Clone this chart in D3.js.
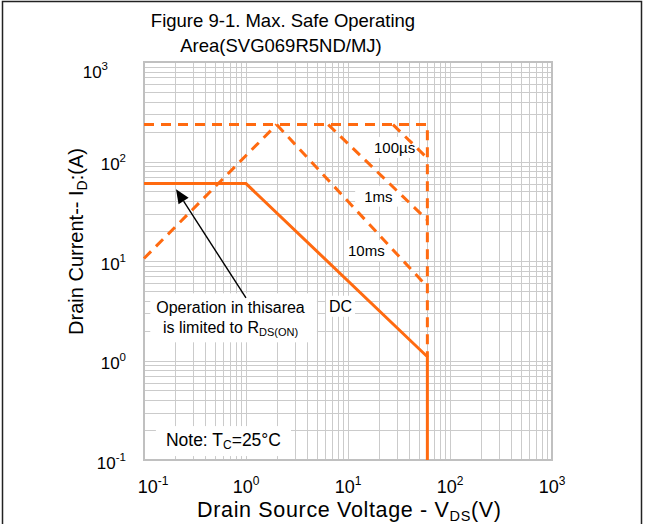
<!DOCTYPE html>
<html>
<head>
<meta charset="utf-8">
<script src="https://cdn.jsdelivr.net/npm/d3@7"></script>
<style>
body { margin: 0; background: #fff; }
text { font-family: "Liberation Sans", Arial, sans-serif; fill: #000; }
</style>
</head>
<body>
<svg id="chart" width="653" height="524"></svg>
<script>
// decades on both axes
var decades = [0.1, 1, 10, 100, 1000];
var decadeExp = ["-1", "0", "1", "2", "3"];

// DC limit (solid)
var dcV = [0.1, 1, 60, 60];
var dcI = [60, 60, 1.09, 0.1];
// max current / max voltage limit (dashed)
var limV = [0.1, 60, 60];
var limI = [235, 235, 1.09];
// RDS(on) limit (dashed)
var rdsV = [0.1, 2];
var rdsI = [10.6, 235];
// pulse lines (dashed)
var ms10V = [2, 60],     ms10I = [235, 5.5];
var ms1V = [6.4, 60],    ms1I = [235, 25.8];
var us100V = [27.6, 60], us100I = [235, 108];

// curve labels
var curveNames = ["100µs", "1ms", "10ms", "DC"];
var curveLabelV = [18, 14.4, 10, 6.5];
var curveLabelI = [122, 39.5, 11.2, 3.09];

// arrow (head, tail)
var arrowV = [0.206, 1.0];
var arrowI = [52.5, 4.25];

var orange = "#ff6a10";

var svg = d3.select("#chart");

var x = d3.scaleLog().domain([0.1, 1000]).range([144, 552]);
var y = d3.scaleLog().domain([0.1, 1000]).range([460, 62]);

// outer frame of the figure
svg.append("path")
    .attr("d", "M2.5,524V1.5H641.5V524")
    .attr("fill", "none")
    .attr("stroke", "#222")
    .attr("stroke-width", 1.5);

// grid
var grid = svg.append("g").attr("stroke", "#cbcbcb").attr("stroke-width", 1);
grid.selectAll(".vx")
    .data(x.ticks())
    .enter().append("line")
    .attr("x1", function (d) { return Math.round(x(d)) + 0.5; })
    .attr("x2", function (d) { return Math.round(x(d)) + 0.5; })
    .attr("y1", 62).attr("y2", 460);
grid.selectAll(".hy")
    .data(y.ticks())
    .enter().append("line")
    .attr("y1", function (d) { return Math.round(y(d)) + 0.5; })
    .attr("y2", function (d) { return Math.round(y(d)) + 0.5; })
    .attr("x1", 144).attr("x2", 552);

svg.append("rect")
    .attr("x", 144).attr("y", 62)
    .attr("width", 408).attr("height", 398)
    .attr("fill", "none")
    .attr("stroke", "#c0c0c0")
    .attr("stroke-width", 2);

// white boxes behind text
function boxed(sel, padX, padY) {
    var b = sel.node().getBBox();
    sel.node().parentNode.insertBefore(
        d3.create("svg:rect")
            .attr("x", b.x - padX).attr("y", b.y - padY)
            .attr("width", b.width + 2 * padX).attr("height", b.height + 2 * padY)
            .attr("fill", "#fff").node(),
        sel.node());
}

var notes = svg.append("g");

// Operation area note
var op = notes.append("g");
op.append("text")
    .attr("x", x(0.705)).attr("y", y(2.98))
    .attr("text-anchor", "middle")
    .style("font-size", "16px")
    .text("Operation in thisarea");
var op2 = op.append("text")
    .attr("x", x(0.705)).attr("y", y(2.98) + 20)
    .attr("text-anchor", "middle")
    .style("font-size", "16px");
op2.append("tspan").text("is limited to R");
op2.append("tspan").attr("dy", 3).style("font-size", "11px").text("DS(ON)");
var ob = op.node().getBBox();
op.insert("rect", "text")
    .attr("x", ob.x - 6).attr("y", ob.y - 6)
    .attr("width", ob.width + 18).attr("height", ob.height + 10)
    .attr("fill", "#fff");

// Tc note
var note = notes.append("text")
    .attr("x", x(0.164)).attr("y", y(0.138))
    .style("font-size", "17.5px");
note.append("tspan").text("Note: T");
note.append("tspan").attr("dy", 3).style("font-size", "12px").text("C");
note.append("tspan").attr("dy", -3).text("=25°C");
boxed(note, 10, 4);

// curve labels
curveNames.forEach(function (name, i) {
    var t = notes.append("text")
        .attr("x", x(curveLabelV[i])).attr("y", y(curveLabelI[i]))
        .style("font-size", name === "DC" ? "16px" : "15px")
        .text(name);
    boxed(t, name === "1ms" ? 9 : 3, 2);
});

// SOA lines
var line = d3.line()
    .x(function (d) { return x(d[0]); })
    .y(function (d) { return y(d[1]); });

function pairs(v, c) { return v.map(function (d, i) { return [d, c[i]]; }); }

var dashed = [pairs(limV, limI), pairs(rdsV, rdsI), pairs(ms10V, ms10I),
              pairs(ms1V, ms1I), pairs(us100V, us100I)];

svg.append("g").selectAll("path")
    .data(dashed)
    .enter().append("path")
    .attr("d", line)
    .attr("fill", "none")
    .attr("stroke", orange)
    .attr("stroke-width", 3)
    .attr("stroke-dasharray", "10,7");

svg.append("path")
    .attr("d", line(pairs(dcV, dcI)))
    .attr("fill", "none")
    .attr("stroke", orange)
    .attr("stroke-width", 3);

// arrow
var hx = x(arrowV[0]), hy = y(arrowI[0]), tx = x(arrowV[1]), ty = y(arrowI[1]);
var ang = Math.atan2(hy - ty, hx - tx);
var hl = 14, hw = 6;
var bx = hx - hl * Math.cos(ang), by = hy - hl * Math.sin(ang);
svg.append("line")
    .attr("x1", tx).attr("y1", ty).attr("x2", bx).attr("y2", by)
    .attr("stroke", "#000").attr("stroke-width", 1.4);
svg.append("path")
    .attr("d", "M" + hx + "," + hy +
        "L" + (bx + hw * Math.sin(ang)) + "," + (by - hw * Math.cos(ang)) +
        "L" + (bx - hw * Math.sin(ang)) + "," + (by + hw * Math.cos(ang)) + "Z")
    .attr("fill", "#000");

// tick labels
var xl = svg.append("g").selectAll("text")
    .data(decades)
    .enter().append("text")
    .attr("x", function (d, i) { return x(d) + (i === 0 ? 9 : 0); })
    .attr("y", 493)
    .attr("text-anchor", "middle")
    .style("font-size", "18px");
xl.append("tspan").text("10");
xl.append("tspan").attr("dy", -8).style("font-size", "12px")
    .text(function (d, i) { return decadeExp[i]; });

var yl = svg.append("g").selectAll("text")
    .data(decades)
    .enter().append("text")
    .attr("x", function (d, i) { return i === 4 ? 108 : 126; })
    .attr("y", function (d, i) { return y(d) + (i === 4 ? 16 : 8.5); })
    .attr("text-anchor", "end")
    .style("font-size", "17px");
yl.append("tspan").text("10");
yl.append("tspan").attr("dy", -8).style("font-size", "11.5px")
    .text(function (d, i) { return decadeExp[i]; });

// titles
var title = svg.append("text")
    .attr("text-anchor", "middle")
    .style("font-size", "18.5px");
title.append("tspan").attr("x", 283).attr("y", 27).text("Figure 9-1. Max. Safe Operating");
title.append("tspan").attr("x", 281).attr("y", 52).text("Area(SVG069R5ND/MJ)");

var xt = svg.append("text")
    .attr("x", 349).attr("y", 517)
    .attr("text-anchor", "middle")
    .attr("textLength", 304)
    .attr("lengthAdjust", "spacing")
    .style("font-size", "21.5px");
xt.append("tspan").text("Drain Source Voltage - V");
xt.append("tspan").attr("dy", 4).style("font-size", "14.5px").text("DS");
xt.append("tspan").attr("dy", -4).text("(V)");

var yt = svg.append("text")
    .attr("transform", "translate(82.5,241.5) rotate(-90)")
    .attr("text-anchor", "middle")
    .style("font-size", "20px");
yt.append("tspan").text("Drain Current-- I");
yt.append("tspan").attr("dy", 4).style("font-size", "14px").text("D");
yt.append("tspan").attr("dy", -4).text(":(A)");
</script>
</body>
</html>
